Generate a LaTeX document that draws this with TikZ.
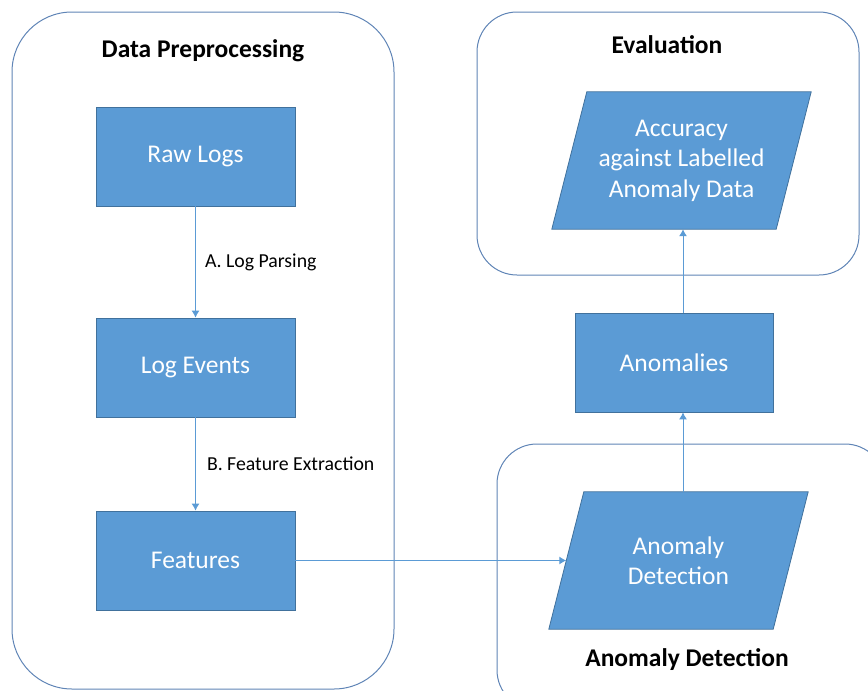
\documentclass[tikz,border=0pt]{standalone}
\usepackage{fontspec}
\setmainfont{Carlito}
\usetikzlibrary{arrows.meta,calc,backgrounds}
\definecolor{boxfill}{HTML}{5B9BD5}
\definecolor{boxline}{HTML}{41719C}
\definecolor{grpline}{HTML}{5F84B6}
\definecolor{arrcol}{HTML}{5B9BD5}
\begin{document}
\begin{tikzpicture}[x=1pt,y=-1pt,
  procbox/.style={draw=boxline, fill=boxfill, line width=0.8pt, minimum width=199pt, minimum height=99pt, text=white, font=\fontsize{25.5}{30.5}\selectfont, inner sep=0pt},
  paratext/.style={minimum width=224pt, minimum height=137pt, text=white, font=\fontsize{25.5}{30.5}\selectfont, align=center, inner sep=0pt},
  parashape/.style={draw=boxline, fill=boxfill, line width=0.8pt},
  grp/.style={draw=grpline, line width=1pt},
  grptitle/.style={font=\bfseries\fontsize{25.5}{30}\selectfont, inner sep=0pt},
  lbl/.style={font=\fontsize{19.8}{24}\selectfont, anchor=west, inner sep=0pt},
  arr/.style={draw=arrcol, line width=1pt, -{Latex[length=7pt,width=8pt]}}]
\path[use as bounding box] (0,0) rectangle (868,691);
\begin{scope}
\clip (0,0) rectangle (868,691);
% containers
\draw[grp, rounded corners=60pt] (12,12) rectangle (394,689);
\draw[grp, rounded corners=40pt] (477,12) rectangle (859,275);
\draw[grp, rounded corners=40pt] (497,444) rectangle (885,710);
\end{scope}
% titles
\node[grptitle] (tpre) at (203,51) {Data Preprocessing};
\node[grptitle] (teval) at (667,45) {Evaluation};
\node[grptitle] (tdet) at (687,660) {Anomaly Detection};
% process boxes
\node[procbox] (raw) at (195.5,156.5) {Raw Logs};
\node[procbox] (events) at (195.5,367.5) {Log Events};
\node[procbox] (feat) at (195.5,560.5) {Features};
\node[procbox, minimum width=198pt] (anom) at (674,362.5) {Anomalies};
% parallelogram nodes
\node[paratext] (acc) at (681.5,160.5) {Accuracy\\against Labelled\\Anomaly Data};
\node[paratext] (det) at (678.5,560.5) {Anomaly\\Detection};
\begin{pgfonlayer}{background}
\foreach \n in {acc,det}
  \draw[parashape] ($(\n.south west)+(-17.5,0)$) -- ($(\n.south east)+(-17.5,0)$)
    -- ($(\n.north east)+(17.5,0)$) -- ($(\n.north west)+(17.5,0)$) -- cycle;
\end{pgfonlayer}
% connectors
\draw[arr] (raw) -- (events) node[lbl, pos=0.5, xshift=9pt] (la) {A. Log Parsing};
\draw[arr] (events) -- (feat) node[lbl, pos=0.5, xshift=11pt] (lb) {B. Feature Extraction};
\draw[arr] (feat) -- (det);
\coordinate (detout) at ($(det.north)+(4.5,0)$);
\draw[arr] (detout) -- (detout |- anom.south);
\coordinate (anomout) at (anom.north -| detout);
\draw[arr] (anomout) -- (anomout |- acc.south);
\end{tikzpicture}
\end{document}
